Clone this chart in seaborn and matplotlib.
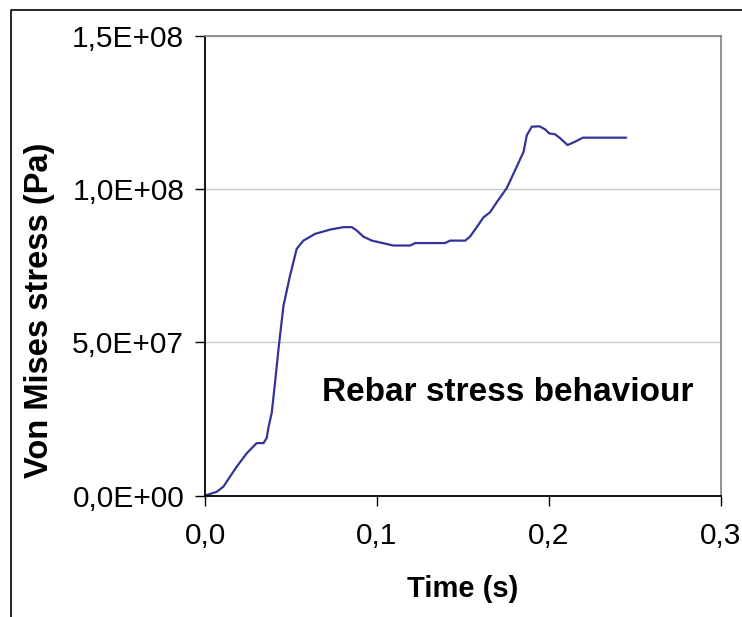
import numpy as np
import pandas as pd
import matplotlib
matplotlib.use("Agg")
import matplotlib.pyplot as plt
import seaborn as sns
from matplotlib.ticker import FuncFormatter, MultipleLocator
from matplotlib.lines import Line2D

# values (time in s, stress in MPa -> scaled to Pa below)
time_s = [0.0, 0.0068, 0.0107, 0.0184, 0.0243, 0.030, 0.034, 0.0359, 0.0368,
          0.0388, 0.0407, 0.0427, 0.0456, 0.0494, 0.0533, 0.0572, 0.064,
          0.0727, 0.0805, 0.0853, 0.0882, 0.0921, 0.097, 0.1095, 0.1193,
          0.1222, 0.1396, 0.1425, 0.1513, 0.1542, 0.158, 0.1619, 0.1658,
          0.1697, 0.1755, 0.1803, 0.1852, 0.1871, 0.190, 0.1945, 0.1978,
          0.2001, 0.2036, 0.2065, 0.2108, 0.2152, 0.2197, 0.2449]
stress_mpa = [0.0, 1.2, 2.9, 9.4, 13.8, 17.1, 17.1, 18.8, 22.0,
              27.0, 36.8, 47.7, 61.9, 71.7, 80.5, 83.2, 85.4,
              86.8, 87.6, 87.6, 86.5, 84.5, 83.2, 81.6, 81.6,
              82.4, 82.4, 83.2, 83.2, 84.6, 87.6, 90.8, 92.5,
              95.8, 100.4, 106.2, 112.2, 117.6, 120.4, 120.5, 119.5,
              118.2, 117.9, 116.6, 114.4, 115.5, 116.8, 116.8]

df = pd.DataFrame({"time": time_s, "stress": np.array(stress_mpa) * 1e6})

sns.set_style("white")
plt.rcParams["font.family"] = ["Liberation Sans", "DejaVu Sans"]
plt.rcParams["text.color"] = "black"
plt.rcParams["axes.labelcolor"] = "black"

fig = plt.figure(figsize=(7.42, 6.17), dpi=100)
ax = fig.add_axes([0.2763, 0.1969, 0.6954, 0.7448])

sns.lineplot(x="time", y="stress", data=df, color="#333399", lw=1.6, ax=ax)

ax.set_xlim(0, 0.3)
ax.set_ylim(0, 1.5e8)
ax.xaxis.set_major_locator(MultipleLocator(0.1))
ax.yaxis.set_major_locator(MultipleLocator(5e7))
ax.xaxis.set_major_formatter(FuncFormatter(lambda v, p: ("%.1f" % v).replace(".", ",")))
ax.yaxis.set_major_formatter(FuncFormatter(lambda v, p: ("%.1E" % v).replace(".", ",")))
ax.grid(axis="y", color="#c8c8c8", lw=1)
ax.tick_params(axis="both", direction="out", length=7, width=1, colors="black",
               labelsize=21.5, bottom=True, left=True)
ax.tick_params(axis="y", pad=8)
ax.tick_params(axis="x", pad=12)

for side in ["left", "bottom"]:
    ax.spines[side].set_color("black")
    ax.spines[side].set_linewidth(1.3)
for side in ["right", "top"]:
    ax.spines[side].set_color("#808080")
    ax.spines[side].set_linewidth(1.2)

ax.set_xlabel("Time (s)", fontsize=21, fontweight="bold")
ax.set_ylabel("Von Mises stress (Pa)", fontsize=23.5, fontweight="bold")
ax.xaxis.set_label_coords(0.5, -0.172)
ax.yaxis.set_label_coords(-0.29, 0.402)

ax.text(0.587, 0.224, "Rebar stress behaviour", transform=ax.transAxes,
        ha="center", va="center", fontsize=24, fontweight="bold")

# outer frame of the original chart area (partially cropped)
fig.add_artist(Line2D([11 / 742, 11 / 742, 1.0], [0.0, 1 - 10 / 617, 1 - 10 / 617],
                      transform=fig.transFigure, color="black", lw=1.2))

fig.savefig("out.png", dpi=100)
